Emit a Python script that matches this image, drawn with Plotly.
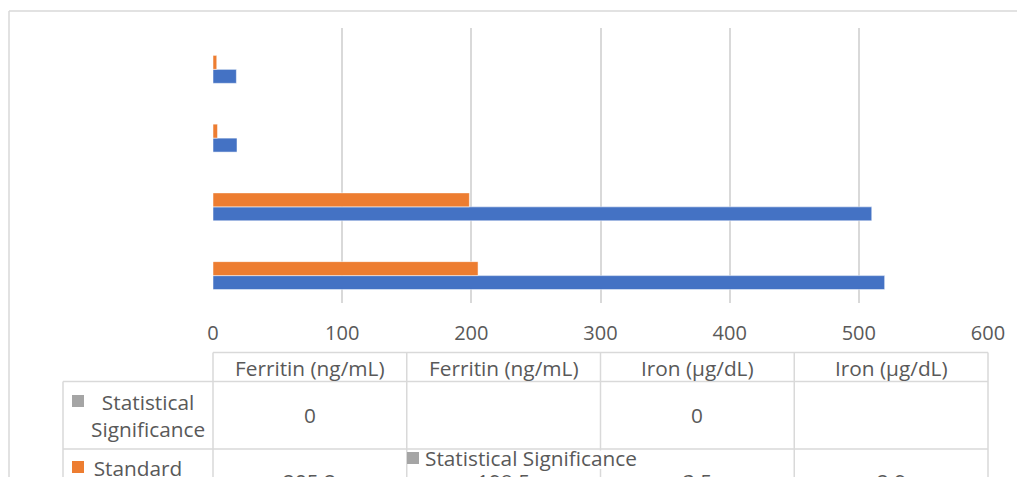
import plotly.graph_objects as go

# ---- data ----
categories = ["Ferritin (ng/mL)", "Ferritin (ng/mL)", "Iron (µg/dL)", "Iron (µg/dL)"]
mean_values = [520.0, 510.0, 18.6, 18.1]
std_values = [205.2, 198.5, 3.5, 2.9]
sig_values = [0, None, 0, None]
series_names = ["Mean", "Standard Deviation", "Statistical Significance"]
x_ticks = [0, 100, 200, 300, 400, 500, 600]

W, H = 1017, 477
FONT = "Open Sans"
TXT = "#595959"
GRID = "#D9D9D9"
COLORS = ["#4472C4", "#ED7D31", "#A5A5A5"]
TS = 20.8  # table font size

plot_l, plot_r, plot_t, plot_b = 213, 988, 28, 303

def px(x):
    return (x - plot_l) / (plot_r - plot_l)

def py(y):
    return (plot_b - y) / (plot_b - plot_t)

fig = go.Figure()
ypos = list(range(len(categories)))
for name, vals, col in zip(series_names, [mean_values, std_values, sig_values], COLORS):
    fig.add_trace(go.Bar(
        y=ypos, x=vals, orientation="h", name=name,
        marker=dict(color=col, line=dict(color="rgba(255,255,255,0.5)", width=1)),
        showlegend=False,
    ))

shapes = []
annotations = []

def hline(x0, x1, y, color=GRID, w=1.5):
    shapes.append(dict(type="line", xref="paper", yref="paper",
                       x0=px(x0), x1=px(x1), y0=py(y), y1=py(y),
                       line=dict(color=color, width=w)))

def vline(x, y0, y1, color=GRID, w=1.5):
    shapes.append(dict(type="line", xref="paper", yref="paper",
                       x0=px(x), x1=px(x), y0=py(y0), y1=py(y1),
                       line=dict(color=color, width=w)))

# outer chart border
hline(9, W + 5, 11)
vline(9, 11, H + 5)

# data table
ncol = len(categories)
col_w = (plot_r - plot_l) / ncol
col_edges = [plot_l + i * col_w for i in range(ncol + 1)]
row_head_t, row_head_b, row1_b = 352.5, 381.5, 449
left_col = 63

hline(plot_l, plot_r, row_head_t)
hline(left_col, plot_r, row_head_b)
hline(left_col, plot_r, row1_b)
vline(left_col, row_head_b, H + 5)
for xe in col_edges:
    vline(xe, row_head_t, H + 5)

for i, cat in enumerate(categories):
    cx = col_edges[i] + col_w / 2
    annotations.append(dict(xref="paper", yref="paper", x=px(cx), y=py((row_head_t + row_head_b) / 2 + 1),
                            text=cat, showarrow=False, xanchor="center", yanchor="middle",
                            font=dict(family=FONT, size=TS, color=TXT)))
    if sig_values[i] is not None:
        annotations.append(dict(xref="paper", yref="paper", x=px(cx), y=py(415),
                                text=str(sig_values[i]), showarrow=False, xanchor="center", yanchor="middle",
                                font=dict(family=FONT, size=TS, color=TXT)))
    annotations.append(dict(xref="paper", yref="paper", x=px(cx), y=py(480.5),
                            text=f"{std_values[i]:.1f}", showarrow=False, xanchor="center", yanchor="middle",
                            font=dict(family=FONT, size=TS, color=TXT)))

# row headers with legend keys
def key(x0, y0, color, s=12):
    shapes.append(dict(type="rect", xref="paper", yref="paper",
                       x0=px(x0), x1=px(x0 + s), y0=py(y0), y1=py(y0 + s),
                       fillcolor=color, line=dict(width=0)))

key(72, 395, COLORS[2])
annotations.append(dict(xref="paper", yref="paper", x=px(148), y=py(415),
                        text="Statistical<br>Significance", showarrow=False, xanchor="center", yanchor="middle",
                        align="center", font=dict(family=FONT, size=TS, color=TXT)))
key(72, 461, COLORS[1])
annotations.append(dict(xref="paper", yref="paper", x=px(138), y=py(452),
                        text="Standard<br>Deviation", showarrow=False, xanchor="center", yanchor="top",
                        align="center", font=dict(family=FONT, size=TS, color=TXT)))

# stray legend entry over the table
shapes.append(dict(type="rect", xref="paper", yref="paper",
                   x0=px(409), x1=px(645), y0=py(450.5), y1=py(469),
                   fillcolor="white", line=dict(width=0)))
key(407, 452, COLORS[2], s=12)
annotations.append(dict(xref="paper", yref="paper", x=px(423), y=py(458),
                        text=series_names[2], showarrow=False, xanchor="left", yanchor="middle",
                        font=dict(family=FONT, size=TS, color=TXT)))

fig.update_layout(
    width=W, height=H,
    margin=dict(l=plot_l, r=W - plot_r, t=plot_t, b=H - plot_b, autoexpand=False),
    paper_bgcolor="white", plot_bgcolor="white",
    barmode="group", bargap=0.39, bargroupgap=0,
    xaxis=dict(range=[0, 600], tickvals=x_ticks, ticktext=[str(t) for t in x_ticks],
               showgrid=True, gridcolor=GRID, gridwidth=1.5, zeroline=False, showline=False,
               ticks="", ticklabelstandoff=16,
               tickfont=dict(family=FONT, size=20, color=TXT)),
    yaxis=dict(range=[-0.5, len(categories) - 0.5], showticklabels=False, showgrid=False,
               zeroline=False, showline=False, ticks=""),
    shapes=shapes, annotations=annotations,
    font=dict(family=FONT, color=TXT),
)

fig.write_html("out.html")
